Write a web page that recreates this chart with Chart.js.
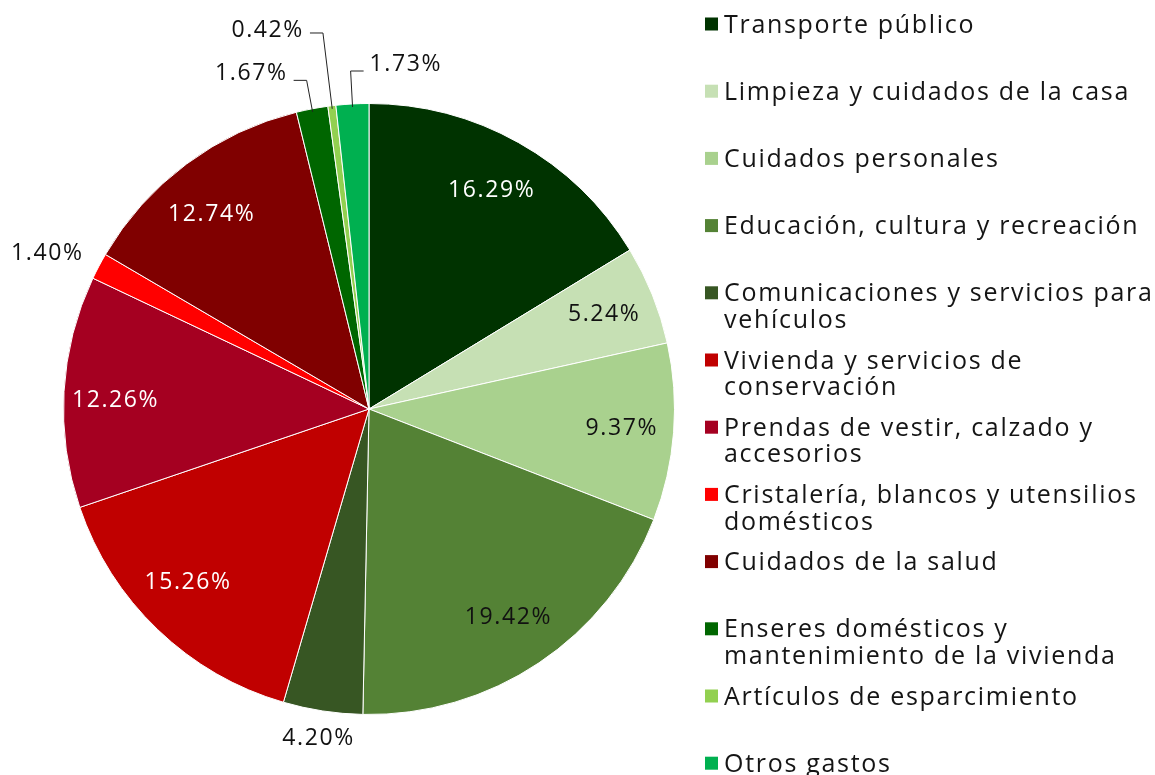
<!DOCTYPE html>
<html>
<head>
<meta charset="utf-8">
<script src="https://cdn.jsdelivr.net/npm/chart.js@4.4.1/dist/chart.umd.min.js"></script>
<style>
  html, body { margin: 0; padding: 0; background: #fff; }
  #wrap { width: 1155px; height: 775px; position: relative; }
</style>
</head>
<body>
<div id="wrap"><canvas id="gastoChart"></canvas></div>
<script>
// categorías (etiquetas multilínea como en la leyenda original)
const categories = [
    'Transporte público',
    'Limpieza y cuidados de la casa',
    'Cuidados personales',
    'Educación, cultura y recreación',
    ['Comunicaciones y servicios para', 'vehículos'],
    ['Vivienda y servicios de', 'conservación'],
    ['Prendas de vestir, calzado y', 'accesorios'],
    ['Cristalería, blancos y utensilios', 'domésticos'],
    'Cuidados de la salud',
    ['Enseres domésticos y', 'mantenimiento de la vivienda'],
    'Artículos de esparcimiento',
    'Otros gastos'
];
const shares = [16.29, 5.24, 9.37, 19.42, 4.20, 15.26, 12.26, 1.40, 12.74, 1.67, 0.42, 1.73];
const sliceColors = ['#003300', '#c6e0b4', '#a9d18e', '#548235', '#375623', '#c00000',
                     '#a50021', '#ff0000', '#800000', '#006600', '#92d050', '#00b050'];

// estilo de las etiquetas de porcentaje
const labelColors = ['#fff', '#111', '#111', '#111', '#111', '#fff', '#fff', '#111', '#fff', '#111', '#111', '#111'];
const labelRadius = [0.82, 0.83, 0.83, 0.82, 1.09, 0.82, 0.83, 1.17, 0.82, 1.095, 1.24, 1.108];
const labelTurn   = [0, 0, 0, 0, 0, 2.5, -1.3, -2, -2.2, 0, 0, 0]; // grados
const leaderSide  = [0, 0, 0, 0, 0, 0, 0, 0, 0, -1, -1, 1]; // 0 = sin línea guía
const leaderLift  = [0, 0, 0, 0, 0, 0, 0, 0, 0, 7, 3, 7];

const FONT = '"Open Sans", "Noto Sans", sans-serif';
const TEXT = '#151515';

const pctLabels = {
    id: 'pctLabels',
    afterDatasetsDraw(chart) {
        const c = chart.ctx;
        const meta = chart.getDatasetMeta(0);
        c.save();
        c.font = '23px ' + FONT;
        c.letterSpacing = '1.6px';
        meta.data.forEach((arc, i) => {
            const p = arc.getProps(['x', 'y', 'startAngle', 'endAngle', 'outerRadius'], true);
            const mid = (p.startAngle + p.endAngle) / 2;
            const ang = mid + labelTurn[i] * Math.PI / 180;
            const f = labelRadius[i];
            const ex = p.x + Math.cos(ang) * p.outerRadius * f;
            const ey = p.y + Math.sin(ang) * p.outerRadius * f;
            const txt = shares[i].toFixed(2) + '%';
            c.fillStyle = labelColors[i];
            if (leaderSide[i] !== 0) {
                const sx = p.x + Math.cos(mid) * p.outerRadius * 0.99;
                const sy = p.y + Math.sin(mid) * p.outerRadius * 0.99;
                const hx = ex + leaderSide[i] * 13;
                c.strokeStyle = '#222';
                c.lineWidth = 1;
                c.beginPath();
                c.moveTo(sx, sy);
                c.lineTo(ex, ey);
                c.lineTo(hx, ey);
                c.stroke();
                c.textAlign = leaderSide[i] < 0 ? 'right' : 'left';
                c.textBaseline = 'middle';
                c.fillText(txt, hx + leaderSide[i] * 6, ey - leaderLift[i]);
            } else {
                c.textAlign = 'center';
                c.textBaseline = 'middle';
                c.fillText(txt, ex, ey);
            }
        });
        c.restore();
    }
};

// leyenda a la derecha con renglones fijos, igual que el original
const sideLegend = {
    id: 'sideLegend',
    afterDraw(chart) {
        const c = chart.ctx;
        const labels = chart.data.labels;
        const colors = chart.data.datasets[0].backgroundColor;
        const top = 25.5, step = 67.2, lineH = 26.5;
        c.save();
        c.font = '25px ' + FONT;
        c.letterSpacing = '1.7px';
        c.textAlign = 'left';
        c.textBaseline = 'middle';
        labels.forEach((lab, i) => {
            const y = top + i * step;
            c.fillStyle = colors[i];
            c.fillRect(705, y - 8, 13, 13);
            c.fillStyle = TEXT;
            const lines = Array.isArray(lab) ? lab : [lab];
            lines.forEach((ln, j) => c.fillText(ln, 724, y + j * lineH));
        });
        c.restore();
    }
};

new Chart(document.getElementById('gastoChart'), {
    type: 'pie',
    data: {
        labels: categories,
        datasets: [{
            data: shares,
            backgroundColor: sliceColors,
            borderColor: '#fff',
            borderWidth: 1
        }]
    },
    options: {
        responsive: true,
        maintainAspectRatio: false,
        animation: false,
        layout: { padding: { left: 63, top: 103, right: 480, bottom: 60 } },
        plugins: {
            legend: { display: false },
            tooltip: { enabled: false }
        }
    },
    plugins: [pctLabels, sideLegend]
});
</script>
</body>
</html>
